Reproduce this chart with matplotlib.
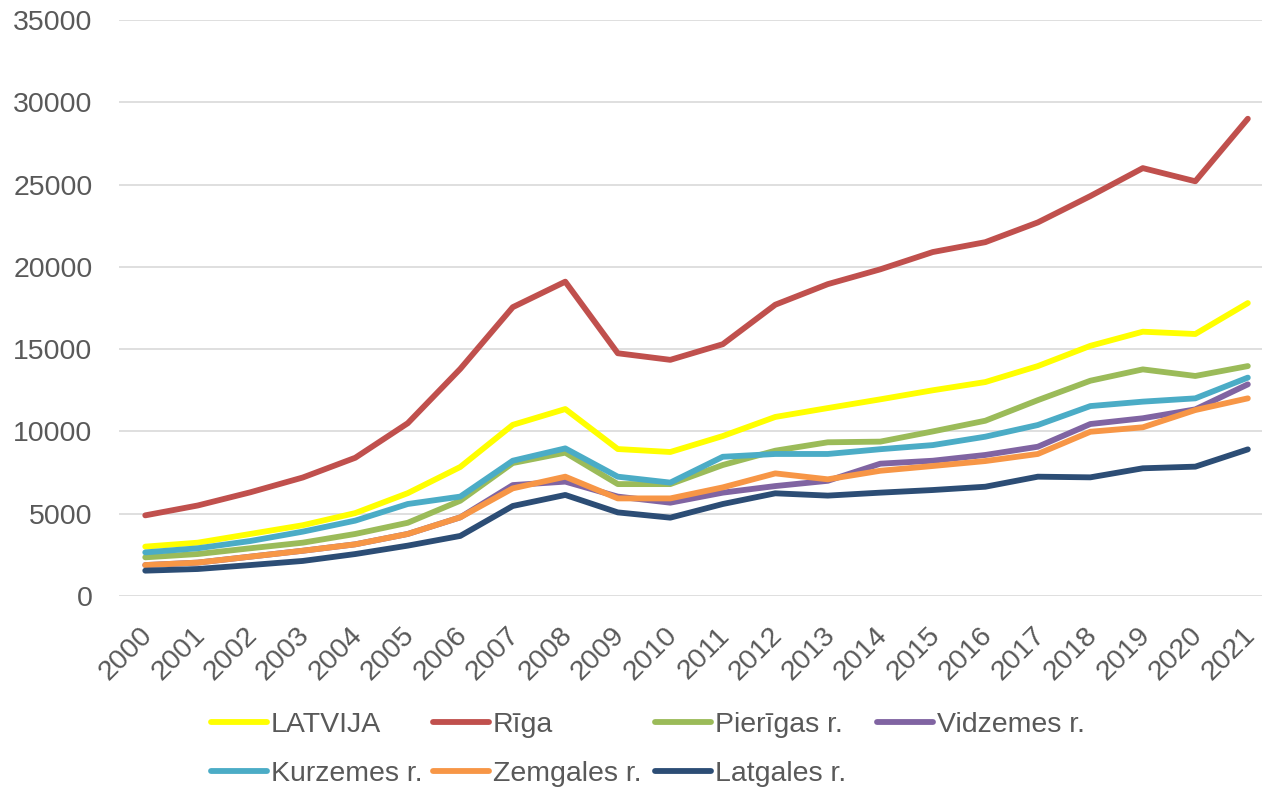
import numpy as np
import matplotlib
matplotlib.use('Agg')
import matplotlib.pyplot as plt
import matplotlib.transforms as mtransforms

font = {'family': 'Liberation Sans',
        'size': 20.5}
matplotlib.rc('font', **font)

years = [str(y) for y in range(2000, 2022)]

latvija   = [3000, 3240, 3770, 4300, 5040, 6250, 7840, 10400, 11360, 8930, 8750,
             9720, 10880, 11420, 11950, 12500, 13000, 13970, 15200, 16060, 15920, 17800]
riga      = [4900, 5500, 6300, 7200, 8400, 10500, 13800, 17550, 19100, 14750, 14350,
             15300, 17700, 18950, 19850, 20900, 21500, 22700, 24300, 26000, 25200, 29000]
pieriga   = [2350, 2550, 2900, 3240, 3770, 4450, 5790, 8080, 8710, 6800, 6800,
             7960, 8830, 9340, 9380, 10000, 10650, 11900, 13080, 13770, 13370, 13970]
vidzeme   = [1880, 2030, 2390, 2750, 3140, 3770, 4780, 6740, 6950, 6040, 5670,
             6280, 6680, 7000, 8040, 8220, 8570, 9070, 10450, 10800, 11340, 12860]
kurzeme   = [2650, 2900, 3340, 3910, 4580, 5590, 6040, 8220, 8970, 7250, 6890,
             8460, 8630, 8630, 8920, 9170, 9680, 10390, 11540, 11810, 12010, 13270]
zemgale   = [1880, 2030, 2390, 2750, 3140, 3770, 4780, 6540, 7250, 5930, 5930,
             6600, 7450, 7090, 7610, 7900, 8200, 8630, 9980, 10250, 11300, 12010]
latgale   = [1540, 1640, 1880, 2130, 2550, 3060, 3650, 5470, 6140, 5080, 4760,
             5590, 6240, 6100, 6280, 6440, 6640, 7250, 7210, 7760, 7860, 8910]

names  = ['LATVIJA', 'Rīga', 'Pierīgas r.', 'Vidzemes r.',
          'Kurzemes r.', 'Zemgales r.', 'Latgales r.']
series = [latvija, riga, pieriga, vidzeme, kurzeme, zemgale, latgale]
colors = ['#FFFF00', '#C0504D', '#9BBB59', '#8064A2',
          '#4BACC6', '#F79646', '#2C4D75']

TXT = '#595959'

fig = plt.figure(figsize=(12.62, 7.87), dpi=100)
ax = fig.add_axes([119/1262, 1 - 596/787, 1 - 119/1262, (596 - 20)/787])

x = np.arange(len(years))
lines = []
for vals, name, c in zip(series, names, colors):
    ln, = ax.plot(x, vals, color=c, lw=4.2, solid_capstyle='round',
                  solid_joinstyle='round', label=name)
    lines.append(ln)

ax.set_xlim(-0.5, 21.27)
ax.set_ylim(0, 35000)
ax.set_yticks(np.arange(0, 35001, 5000))
ax.grid(axis='y', color='#D9D9D9', lw=1.2)
ax.set_axisbelow(True)
for s in ax.spines.values():
    s.set_visible(False)

ax.set_xticks(x)
ax.set_xticklabels(years, rotation=45, ha='right', rotation_mode='anchor')
ax.tick_params(axis='both', length=0, colors=TXT)
ax.tick_params(axis='y', pad=19)
ax.tick_params(axis='x', pad=19)

# nudge the rotated year labels a little left so 2021 fits
shift = mtransforms.ScaledTranslation(-6/100, 0, fig.dpi_scale_trans)
for lab in ax.get_xticklabels():
    lab.set_transform(lab.get_transform() + shift)

# legend laid out in 4 fixed columns like the Excel original
col_x = [211, 433, 655, 877]
for i, cx in enumerate(col_x):
    idx = [i, i + 4] if i + 4 < len(lines) else [i]
    fig.legend([lines[k] for k in idx], [names[k] for k in idx],
               loc='upper left', bbox_to_anchor=(cx/1262, 1 - 712/787),
               frameon=False, borderpad=0, borderaxespad=0,
               handlelength=1.95, handletextpad=0.15, labelspacing=0.8,
               labelcolor=TXT)

fig.savefig('out.png', dpi=100)
